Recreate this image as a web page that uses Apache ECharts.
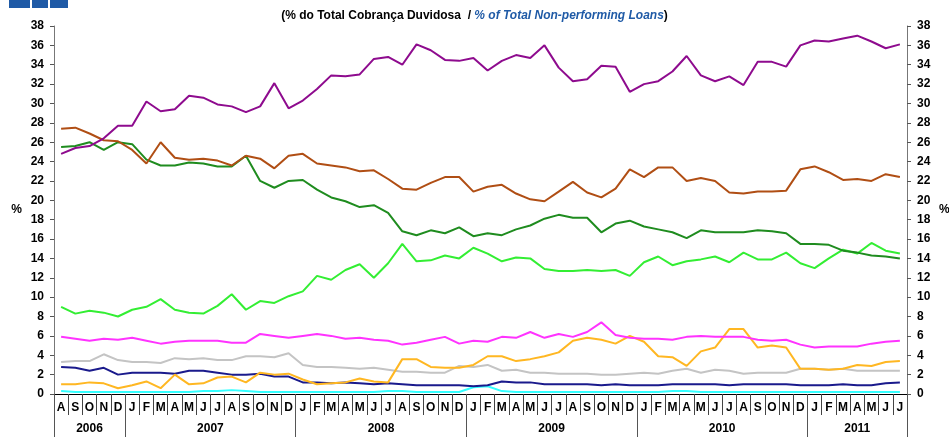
<!DOCTYPE html>
<html>
<head>
<meta charset="utf-8">
<script src="https://cdn.jsdelivr.net/npm/echarts@6/dist/echarts.min.js"></script>
<style>
  html, body { margin: 0; padding: 0; background: #fff; }
  #container { width: 949px; height: 437px; }
</style>
</head>
<body>
<div id="container"></div>
<script>
var dom = document.getElementById('container');
var myChart = echarts.init(dom, null, { renderer: 'canvas' });

// month letters, Aug 2006 .. Jul 2011
let months = ['A','S','O','N','D',
  'J','F','M','A','M','J','J','A','S','O','N','D',
  'J','F','M','A','M','J','J','A','S','O','N','D',
  'J','F','M','A','M','J','J','A','S','O','N','D',
  'J','F','M','A','M','J','J','A','S','O','N','D',
  'J','F','M','A','M','J','J'];
let years = ['2006', '2007', '2008', '2009', '2010', '2011'];
let yearStart = [0, 5, 17, 29, 41, 53, 60]; // month index where each year starts

let purple = [24.8,25.4,25.6,26.4,27.7,27.7,30.2,29.2,29.4,30.8,
  30.6,29.9,29.7,29.1,29.7,32.1,29.5,30.3,31.5,32.9,
  32.8,33.0,34.6,34.8,34.0,36.1,35.5,34.5,34.4,34.7,
  33.4,34.4,35.0,34.7,36.0,33.7,32.3,32.5,33.9,33.8,
  31.2,32.0,32.3,33.3,34.9,32.9,32.3,32.8,31.9,34.3,
  34.3,33.8,36.0,36.5,36.4,36.7,37.0,36.4,35.7,36.1];
let brown = [27.4,27.5,26.9,26.2,26.1,25.2,23.8,26.0,24.4,24.2,
  24.3,24.1,23.6,24.6,24.3,23.3,24.6,24.8,23.8,23.6,
  23.4,23.0,23.1,22.2,21.2,21.1,21.8,22.4,22.4,20.9,
  21.4,21.6,20.7,20.1,19.9,20.9,21.9,20.8,20.3,21.2,
  23.2,22.4,23.4,23.4,22.0,22.3,22.0,20.8,20.7,20.9,
  20.9,21.0,23.2,23.5,22.9,22.1,22.2,22.0,22.7,22.4];
let darkGreen = [25.5,25.6,26.0,25.2,26.0,25.8,24.2,23.6,23.6,23.9,
  23.8,23.5,23.5,24.6,22.0,21.3,22.0,22.1,21.1,20.3,
  19.9,19.3,19.5,18.7,16.8,16.4,16.9,16.6,17.2,16.3,
  16.6,16.4,17.0,17.4,18.1,18.5,18.2,18.2,16.7,17.6,
  17.9,17.3,17.0,16.7,16.1,16.9,16.7,16.7,16.7,16.9,
  16.8,16.6,15.5,15.5,15.4,14.8,14.6,14.3,14.2,14.0];
let lightGreen = [9.0,8.3,8.6,8.4,8.0,8.7,9.0,9.8,8.7,8.4,
  8.3,9.1,10.3,8.7,9.6,9.4,10.1,10.6,12.2,11.8,
  12.8,13.4,12.0,13.5,15.5,13.7,13.8,14.3,14.0,15.1,
  14.5,13.7,14.1,14.0,12.9,12.7,12.7,12.8,12.7,12.8,
  12.2,13.6,14.2,13.3,13.7,13.9,14.2,13.6,14.6,13.9,
  13.9,14.6,13.5,13.0,14.0,14.9,14.5,15.6,14.8,14.5];
let magenta = [5.9,5.7,5.5,5.7,5.6,5.8,5.5,5.2,5.4,5.5,
  5.5,5.5,5.3,5.3,6.2,6.0,5.8,6.0,6.2,6.0,
  5.7,5.8,5.6,5.5,5.1,5.3,5.6,5.9,5.2,5.5,
  5.4,5.9,5.8,6.4,5.8,6.2,5.9,6.4,7.4,6.1,
  5.8,5.7,5.7,5.6,5.9,6.0,5.9,5.9,5.9,5.6,
  5.5,5.6,5.1,4.8,4.9,4.9,4.9,5.2,5.4,5.5];
let orange = [1.0,1.0,1.2,1.1,0.6,0.9,1.3,0.6,2.0,1.0,
  1.1,1.7,1.8,1.2,2.2,2.0,2.1,1.5,1.0,1.1,
  1.2,1.6,1.3,1.2,3.6,3.6,2.8,2.7,2.7,3.0,
  3.9,3.9,3.4,3.6,3.9,4.3,5.5,5.8,5.6,5.2,
  6.0,5.4,3.9,3.8,2.9,4.4,4.8,6.7,6.7,4.8,
  5.0,4.8,2.6,2.6,2.5,2.6,3.0,2.9,3.3,3.4];
let gray = [3.3,3.4,3.4,4.1,3.5,3.3,3.3,3.2,3.7,3.6,
  3.7,3.5,3.5,3.9,3.9,3.8,4.2,3.0,2.8,2.8,
  2.7,2.6,2.7,2.5,2.3,2.3,2.2,2.2,2.9,2.8,
  3.0,2.4,2.5,2.2,2.2,2.1,2.1,2.1,2.0,2.0,
  2.1,2.2,2.1,2.4,2.6,2.2,2.5,2.4,2.1,2.2,
  2.2,2.2,2.6,2.6,2.5,2.6,2.4,2.4,2.4,2.4];
let navy = [2.8,2.7,2.4,2.7,2.0,2.2,2.2,2.2,2.1,2.4,
  2.4,2.2,2.0,2.0,2.1,1.8,1.8,1.2,1.2,1.1,
  1.2,1.1,1.0,1.1,1.0,0.9,0.9,0.9,0.9,0.8,
  0.9,1.3,1.2,1.2,1.0,1.0,1.0,1.0,0.9,1.0,
  0.9,0.9,0.9,1.0,1.0,1.0,1.0,0.9,1.0,1.0,
  1.0,1.0,0.9,0.9,0.9,1.0,0.9,0.9,1.1,1.2];
let cyan = [0.3,0.2,0.2,0.2,0.2,0.2,0.2,0.2,0.2,0.2,
  0.3,0.3,0.4,0.3,0.2,0.2,0.2,0.2,0.2,0.2,
  0.2,0.2,0.2,0.3,0.3,0.2,0.2,0.2,0.2,0.7,
  0.8,0.3,0.2,0.2,0.2,0.2,0.2,0.2,0.2,0.2,
  0.2,0.2,0.2,0.3,0.3,0.2,0.2,0.2,0.2,0.2,
  0.2,0.2,0.2,0.2,0.2,0.2,0.2,0.2,0.2,0.2];

let categories = months.map(function (m, i) { return i + ''; });
let yearMid = [];
for (let i = 0; i < years.length; i++) {
  yearMid.push((yearStart[i] + yearStart[i + 1]) / 2);
}

const font = 'Liberation Sans, Arial, sans-serif';

function line(data, color) {
  return {
    type: 'line',
    data: data,
    symbol: 'none',
    lineStyle: { color: color, width: 2 },
    itemStyle: { color: color },
    animation: false
  };
}

function yAxisCfg(pos) {
  return {
    type: 'value',
    position: pos,
    min: 0,
    max: 38,
    interval: 2,
    name: '%',
    nameLocation: 'middle',
    nameRotate: 0,
    nameGap: pos === 'left' ? 32 : 32,
    nameTextStyle: { fontFamily: font, fontWeight: 'bold', fontSize: 12, color: '#000' },
    axisLine: { show: true, lineStyle: { color: '#777', width: 1 } },
    axisTick: { show: true, length: 4, lineStyle: { color: '#555' } },
    axisLabel: { fontFamily: font, fontWeight: 'bold', fontSize: 12, color: '#000', margin: 10 },
    splitLine: { show: false }
  };
}

var option = {
  backgroundColor: '#fff',
  title: {
    left: 'center',
    top: 5,
    text: '{a|(% do Total Cobrança Duvidosa  / }{b|% of Total Non-performing Loans}{a|)}',
    textStyle: {
      rich: {
        a: { fontFamily: font, fontWeight: 'bold', fontSize: 12, color: '#000' },
        b: { fontFamily: font, fontWeight: 'bold', fontStyle: 'italic', fontSize: 12, color: '#1F5AA6' }
      }
    }
  },
  graphic: [
    { type: 'rect', shape: { x: 9, y: 0, width: 21, height: 8 }, style: { fill: '#1F5AA6' } },
    { type: 'rect', shape: { x: 32, y: 0, width: 16, height: 8 }, style: { fill: '#1F5AA6' } },
    { type: 'rect', shape: { x: 50, y: 0, width: 18, height: 8 }, style: { fill: '#1F5AA6' } }
  ],
  grid: { left: 54, right: 42, top: 26, bottom: 43, containLabel: false, outerBoundsMode: 'none' },
  xAxis: [
    {
      type: 'category',
      data: categories,
      boundaryGap: true,
      axisLine: { show: true, onZero: false, lineStyle: { color: '#000', width: 1 } },
      axisTick: { show: true, interval: 0, alignWithLabel: false, length: 21, lineStyle: { color: '#444' } },
      axisLabel: {
        interval: 0,
        margin: 8,
        fontFamily: font,
        fontWeight: 'bold',
        fontSize: 12,
        color: '#000',
        formatter: function (v) { return months[+v]; }
      },
      splitLine: { show: false }
    },
    {
      type: 'value',
      min: 0,
      max: 60,
      position: 'bottom',
      axisLine: { show: false },
      axisTick: { show: true, customValues: yearStart, length: 43, lineStyle: { color: '#555' } },
      axisLabel: {
        customValues: yearMid,
        margin: 29,
        fontFamily: font,
        fontWeight: 'bold',
        fontSize: 12,
        color: '#000',
        formatter: function (v) { return years[yearMid.indexOf(v)]; }
      },
      splitLine: { show: false }
    }
  ],
  yAxis: [yAxisCfg('left'), yAxisCfg('right')],
  series: [
    line(cyan, '#33FFFF'),
    line(navy, '#1A1A8C'),
    line(gray, '#C4C4C4'),
    line(orange, '#FFB722'),
    line(magenta, '#FF33FF'),
    line(lightGreen, '#33EE33'),
    line(darkGreen, '#1F8C1F'),
    line(brown, '#B04E14'),
    line(purple, '#8E0B8E')
  ]
};

myChart.setOption(option);
window.addEventListener('resize', myChart.resize);
</script>
</body>
</html>
